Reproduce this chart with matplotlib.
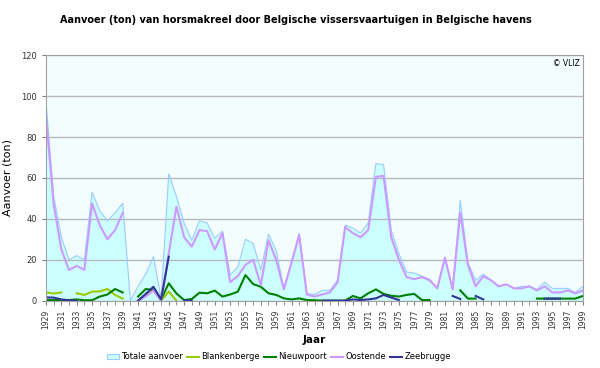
import numpy as np
from matplotlib import pyplot as plt
from matplotlib.patches import Patch
from matplotlib.lines import Line2D

N = None

years = list(range(1929, 2000))

totaal = [97, 51, 31, 20, 22, 20, 53, 44, 39, 43,
          47.5, 0, 7, 13, 21.5, 1, 62, 51, 38, 29.5,
          39, 38, 30.5, 34, 12.5, 16.5, 30, 28, 15, 32.5,
          24.5, 6, 19, 33, 3.5, 3, 5, 5, 10, 37,
          35.5, 33, 38, 67, 66.5, 34.5, 23, 14, 13.5, 12,
          10.5, 6, 21, 5.5, 49, 18.5, 10, 13, 10, 7,
          8, 6, 7, 7, 5.5, 9, 6, 6, 6, 4,
          7]

blankenberge = [4, 3.5, 4, N, 3.6, 2.8, 4.4, 4.5, 5.7, 2.8,
                1, N, 0, 3, 5, 0, 4.5, 0] + [N] * 53

nieuwpoort = [0.3, 0.3, 0.3, 0.3, 0.6, 0.2, 0.2, 2, 3, 5.7,
              4, N, 2, 5.7, 5.2, 0.6, 8.5, 3.5, 0.3, 0.8,
              3.9, 3.6, 4.9, 2, 3, 4.4, 12.5, 8.1, 6.8, 3.6,
              2.8, 1.1, 0.6, 1.1, 0.3, 0.2, 0, 0, 0, 0,
              2.3, 1.1, 3.6, 5.5, 3.3, 2.4, 2, 2.8, 3.3, 0.3,
              0.3, N, N, N, 5, 1, 1, N, N, N,
              N, N, N, N, 1, 1, 1, 1, 1, 1,
              2.3]

oostende = [90, 47, 25, 15, 17, 15, 47.5, 37, 30, 34.5,
            43, N, 0, 2, 5, 0, 23, 46, 31, 26.4,
            34.5, 34, 25, 33, 9, 12, 17.5, 20, 7.5, 29.5,
            20, 5.5, 18.5, 32, 3, 2, 3, 4, 9, 36,
            33, 31, 34.5, 60.5, 61, 31, 20, 11.5, 10.5, 11.5,
            10, 6, 21, 5.5, 43, 17.5, 7, 12, 10, 7,
            8, 6, 6, 7, 5, 7, 4, 4, 5, 3.5,
            5]

zeebrugge = [1.6, 1.5, 0.6, 0.2, 0, N, N, N, N, N,
             N, N, 0, 3.3, 6.8, 0.6, 21.5, N, 0, 0,
             N, N, N, N, N, N, N, N, N, N,
             N, N, N, N, N, N, 0, 0, 0, 0,
             0.6, 0.3, 0.6, 1.1, 2.8, 1.5, 0.3, N, N, N,
             N, N, N, 2.3, 0.8, N, 2.3, 0.6, N, N,
             N, N, N, N, N, 1, 1, 1, N, N,
             N]


def arr(v):
    return np.array([np.nan if x is None else x for x in v], dtype=float)


fig = plt.figure(figsize=(6, 3.68), dpi=100)
ax = fig.add_axes([0.0767, 0.183, 0.895, 0.667])
ax.set_facecolor('#f4fdfd')

ax.fill_between(years, arr(totaal), color='#ccffff', linewidth=0)
ax.plot(years, arr(totaal), color='#99ccff', linewidth=0.8)
ax.plot(years, arr(blankenberge), color='#99cc00', linewidth=1.5)
ax.plot(years, arr(nieuwpoort), color='#008000', linewidth=1.5)
ax.plot(years, arr(oostende), color='#cc99ff', linewidth=1.5)
ax.plot(years, arr(zeebrugge), color='#333399', linewidth=1.5)

ax.set_xlim(1929, 1999)
ax.set_ylim(0, 120)
ax.set_yticks(range(0, 121, 20))
ax.set_xticks(years, minor=True)
ax.set_xticks(years[::2])
ax.set_xticklabels([str(y) for y in years[::2]], rotation=90, fontsize=5.5)
ax.tick_params(axis='y', labelsize=6, length=3, color='#808080', colors='#333333')
ax.tick_params(axis='x', which='both', length=3, color='#808080', colors='#333333')
ax.grid(axis='y', color='#b8b8b8', linewidth=1)
for s in ax.spines.values():
    s.set_color('#a0a0a0')

ax.set_ylabel('Aanvoer (ton)', fontsize=8, labelpad=6)
ax.set_xlabel('Jaar', fontsize=7.5, fontweight='bold', labelpad=4)
ax.text(0.995, 0.985, '© VLIZ', transform=ax.transAxes, ha='right', va='top', fontsize=5.5)

fig.text(0.493, 0.945, 'Aanvoer (ton) van horsmakreel door Belgische vissersvaartuigen in Belgische havens',
         ha='center', va='center', fontsize=7, fontweight='bold')

handles = [Patch(facecolor='#ccffff', edgecolor='#99ccff', linewidth=0.8),
           Line2D([], [], color='#99cc00', linewidth=1.5),
           Line2D([], [], color='#008000', linewidth=1.5),
           Line2D([], [], color='#cc99ff', linewidth=1.5),
           Line2D([], [], color='#333399', linewidth=1.5)]
labels = ['Totale aanvoer', 'Blankenberge', 'Nieuwpoort', 'Oostende', 'Zeebrugge']
fig.legend(handles, labels, loc='center', bbox_to_anchor=(0.465, 0.03), ncol=5, frameon=False,
           fontsize=6, handlelength=1.4, handletextpad=0.3, columnspacing=0.5)

plt.savefig('out.png', dpi=100)
